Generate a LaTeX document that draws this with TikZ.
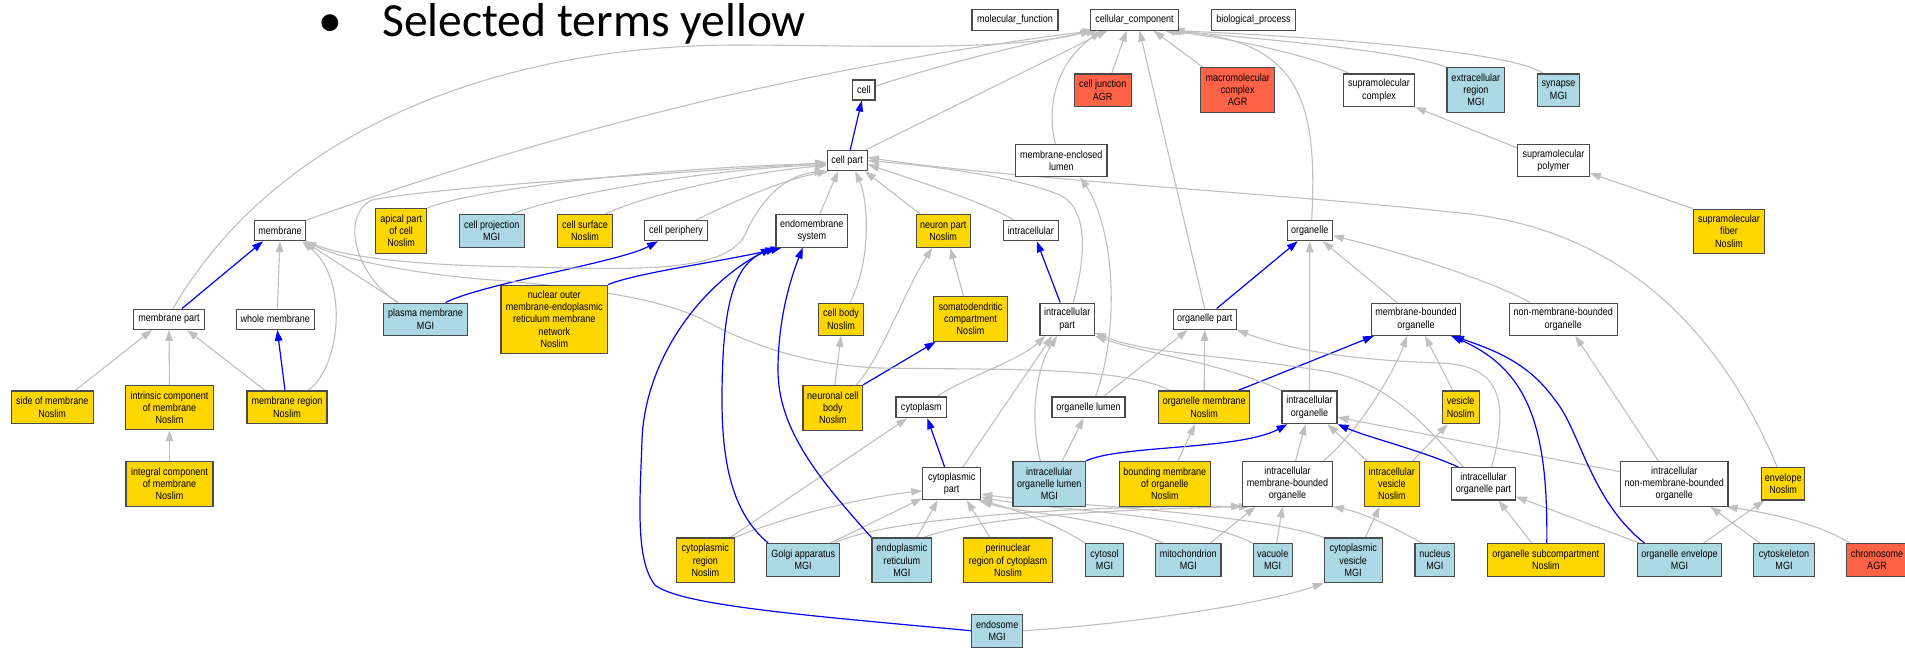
\documentclass[tikz,border=0pt]{standalone}
\usepackage{fontspec}
\newfontfamily\lbl{Liberation Sans}[FakeStretch=0.86]
\newfontfamily\ttl{Carlito}
\usetikzlibrary{arrows.meta}
\definecolor{egray}{HTML}{C0C0C0}
\definecolor{goldy}{HTML}{FFD700}
\definecolor{lblue}{HTML}{ADD8E6}
\definecolor{tomatoc}{HTML}{FF6347}
\definecolor{bordc}{HTML}{4A4A4A}
\pgfdeclarelayer{bg}
\pgfsetlayers{bg,main}
\begin{document}
\begin{tikzpicture}[x=1pt,y=-1pt,
 box/.style={rectangle,draw=bordc,line width=1.1pt,inner sep=0pt,align=center,font=\lbl\fontsize{10.5}{12.2}\selectfont,text=black},
 wbox/.style={box,fill=white},
 ybox/.style={box,fill=goldy},
 bbox/.style={box,fill=lblue},
 rbox/.style={box,fill=tomatoc},
 sz/.style 2 args={minimum width=#1,minimum height=#2},
 gedge/.style={draw=egray,line width=1.1pt,-{Triangle[length=11pt,width=7.5pt]}},
 bedge/.style={draw=blue,line width=1.2pt,-{Triangle[length=11pt,width=7.5pt]}},
]
\useasboundingbox (0,0) rectangle (1905,649);
% title
\node[font=\ttl\fontsize{47.6}{50}\selectfont,anchor=base,inner sep=0] (bullet) at (330,36) {•};
\node[font=\ttl\fontsize{47.6}{50}\selectfont,anchor=base west,inner sep=0] (title) at (382,36) {Selected terms yellow};
% nodes
\node[wbox,sz={86}{20.7}] (mf) at (1015,19.7) {molecular\_function};
\node[wbox,sz={88}{20.7}] (cc) at (1134.5,19.7) {cellular\_component};
\node[wbox,sz={84}{20.7}] (bp) at (1253.5,19.7) {biological\_process};
\node[wbox,sz={22.3}{20}] (cell) at (863.8,90) {cell};
\node[rbox,sz={57}{32.7}] (cj) at (1102.7,90.3) {cell junction\\AGR};
\node[rbox,sz={74}{44.7}] (mc) at (1237.7,90) {macromolecular\\complex\\AGR};
\node[wbox,sz={71}{32.7}] (sc) at (1379,90.3) {supramolecular\\complex};
\node[bbox,sz={57.7}{44.7}] (exr) at (1475.8,90) {extracellular\\region\\MGI};
\node[bbox,sz={42.3}{32.7}] (syn) at (1558.5,90.3) {synapse\\MGI};
\node[wbox,sz={40.3}{20.3}] (cp) at (847.2,160.5) {cell part};
\node[wbox,sz={91.3}{32.3}] (mel) at (1061.3,160.5) {membrane-enclosed\\lumen};
\node[wbox,sz={71.7}{32.3}] (sp) at (1553.5,160.5) {supramolecular\\polymer};
\node[wbox,sz={51.3}{20}] (mem) at (280,230.7) {membrane};
\node[ybox,sz={51}{44.7}] (apc) at (401.2,231) {apical part\\of cell\\Noslim};
\node[bbox,sz={65.3}{32.7}] (cproj) at (491.7,231) {cell projection\\MGI};
\node[ybox,sz={55.3}{32.7}] (csurf) at (585,231) {cell surface\\Noslim};
\node[wbox,sz={62.7}{20}] (cper) at (676,230.7) {cell periphery};
\node[wbox,sz={71.7}{32.7}] (ems) at (811.8,230.7) {endomembrane\\system};
\node[ybox,sz={53.7}{32.7}] (np) at (943.2,231) {neuron part\\Noslim};
\node[wbox,sz={55}{20}] (ic) at (1030.8,230.7) {intracellular};
\node[wbox,sz={45.3}{20}] (org) at (1309.7,230.7) {organelle};
\node[ybox,sz={71.3}{44.3}] (sf) at (1729,231.2) {supramolecular\\fiber\\Noslim};
\node[wbox,sz={70.7}{20.3}] (mp) at (169,319.2) {membrane part};
\node[wbox,sz={78}{20.3}] (wm) at (275.3,319.2) {whole membrane};
\node[bbox,sz={84.3}{32.3}] (pm) at (425.5,319.2) {plasma membrane\\MGI};
\node[ybox,sz={106.7}{68.3}] (nom) at (554.3,319.2) {nuclear outer\\membrane-endoplasmic\\reticulum membrane\\network\\Noslim};
\node[ybox,sz={44.7}{32.3}] (cb) at (841,319.2) {cell body\\Noslim};
\node[ybox,sz={73.7}{44.7}] (sdc) at (970.5,319) {somatodendritic\\compartment\\Noslim};
\node[wbox,sz={54.5}{32.3}] (icp) at (1067.2,319.2) {intracellular\\part};
\node[wbox,sz={63.3}{20.3}] (op) at (1204.7,319.2) {organelle part};
\node[wbox,sz={89.3}{32.3}] (mbo) at (1416,319.2) {membrane-bounded\\organelle};
\node[wbox,sz={107.7}{32.3}] (nmbo) at (1563.2,319.2) {non-membrane-bounded\\organelle};
\node[ybox,sz={82.3}{32.7}] (som) at (52.2,407.3) {side of membrane\\Noslim};
\node[ybox,sz={88.3}{44.3}] (icm) at (169.5,407.5) {intrinsic component\\of membrane\\Noslim};
\node[ybox,sz={80}{32.7}] (mr) at (287,407.3) {membrane region\\Noslim};
\node[ybox,sz={59.7}{44.7}] (ncb) at (832.8,407.7) {neuronal cell\\body\\Noslim};
\node[wbox,sz={50.7}{20.7}] (cyt) at (921.3,407.3) {cytoplasm};
\node[wbox,sz={73}{20.7}] (ol) at (1088.5,407.3) {organelle lumen};
\node[ybox,sz={91}{32.7}] (om) at (1204.2,407.3) {organelle membrane\\Noslim};
\node[wbox,sz={55}{32.7}] (io) at (1309.5,407.3) {intracellular\\organelle};
\node[ybox,sz={36.7}{32.7}] (ves) at (1460.7,407.3) {vesicle\\Noslim};
\node[ybox,sz={87}{45}] (intc) at (169.5,483.8) {integral component\\of membrane\\Noslim};
\node[wbox,sz={58}{32}] (cytp) at (951.7,483.7) {cytoplasmic\\part};
\node[bbox,sz={72.7}{44.7}] (iol) at (1049.3,483.7) {intracellular\\organelle lumen\\MGI};
\node[ybox,sz={91}{44.7}] (bmo) at (1164.8,483.7) {bounding membrane\\of organelle\\Noslim};
\node[wbox,sz={89.7}{44.7}] (imbo) at (1287.5,483.7) {intracellular\\membrane-bounded\\organelle};
\node[ybox,sz={55}{44.7}] (iv) at (1391.8,483.7) {intracellular\\vesicle\\Noslim};
\node[wbox,sz={63.7}{32.3}] (iop) at (1483.5,483.8) {intracellular\\organelle part};
\node[wbox,sz={107.3}{44.7}] (inmbo) at (1674.3,483.7) {intracellular\\non-membrane-bounded\\organelle};
\node[ybox,sz={43}{32.3}] (env) at (1783.2,483.8) {envelope\\Noslim};
\node[ybox,sz={58}{44.7}] (cr) at (705.3,560.3) {cytoplasmic\\region\\Noslim};
\node[bbox,sz={73}{32.7}] (golgi) at (803.2,560) {Golgi apparatus\\MGI};
\node[bbox,sz={59.7}{44.7}] (erc) at (901.8,560.3) {endoplasmic\\reticulum\\MGI};
\node[ybox,sz={88.7}{44.7}] (pnr) at (1008,560.3) {perinuclear\\region of cytoplasm\\Noslim};
\node[bbox,sz={37.7}{32.7}] (cyto) at (1104.5,560) {cytosol\\MGI};
\node[bbox,sz={65.3}{32.7}] (mito) at (1188.3,560) {mitochondrion\\MGI};
\node[bbox,sz={38.7}{32.7}] (vac) at (1272.7,560) {vacuole\\MGI};
\node[bbox,sz={57.7}{44.7}] (cv) at (1353.2,560.3) {cytoplasmic\\vesicle\\MGI};
\node[bbox,sz={39.7}{32.7}] (nuc) at (1434.8,560) {nucleus\\MGI};
\node[ybox,sz={117}{32.7}] (osc) at (1545.8,560) {organelle subcompartment\\Noslim};
\node[bbox,sz={83.7}{32.7}] (oe) at (1679.5,560) {organelle envelope\\MGI};
\node[bbox,sz={60.7}{32.7}] (csk) at (1784,560) {cytoskeleton\\MGI};
\node[rbox,sz={61}{32.7}] (chr) at (1877,560) {chromosome\\AGR};
\node[bbox,sz={51}{32.7}] (endo) at (997.2,630.7) {endosome\\MGI};
% edges
\begin{pgfonlayer}{bg}
\fill[white] (0,0) rectangle (1905,649);
\draw[gedge] ([yshift=4]cell.east) .. controls (950,62) and (1030,42) .. ([xshift=-37]cc.south);
\draw[bedge] ([xshift=3]cp.north) -- ([xshift=-2]cell.south);
\draw[gedge] ([xshift=-2]cp.north east) -- ([xshift=-27]cc.south);
\draw[gedge] (mem.north east) .. controls (600,115) and (850,62) .. ([xshift=-41]cc.south);
\draw[gedge] ([xshift=4]mp.north) .. controls (284,119) and (517,45) .. (737,45) .. controls (850,45) and (1010,52) .. ([xshift=-43]cc.south);
\draw[gedge] ([xshift=-6]mel.north) .. controls (1045,100) and (1060,60) .. ([xshift=-33]cc.south);
\draw[gedge] ([xshift=9]cj.north) -- ([xshift=-8]cc.south);
\draw[gedge] (op.north) -- ([xshift=5]cc.south);
\draw[gedge] ([xshift=-35]mc.north) -- ([xshift=19]cc.south);
\draw[gedge] ([xshift=-30]sc.north) .. controls (1310,55) and (1230,38) .. ([xshift=30]cc.south);
\draw[gedge] (exr.north west) .. controls (1400,50) and (1250,38) .. ([xshift=36]cc.south);
\draw[gedge] ([xshift=-15]syn.north) .. controls (1510,50) and (1300,36) .. ([xshift=39]cc.south);
\draw[gedge] ([xshift=2]org.north) .. controls (1318,100) and (1300,40) .. ([xshift=33]cc.south);
\draw[gedge] ([yshift=-4]sp.north west) -- (sc.south east);
\draw[gedge] (sf.north west) -- ([yshift=4]sp.south east);
% membrane cluster
\draw[bedge] ([xshift=13]mp.north) -- ([xshift=-17]mem.south);
\draw[gedge] ([xshift=2]wm.north) -- (mem.south);
\draw[gedge] ([xshift=23]som.north) -- ([xshift=-17]mp.south);
\draw[gedge] (icm.north) -- (mp.south);
\draw[gedge] (intc.north) -- (icm.south);
\draw[gedge] ([xshift=-22]mr.north) -- ([xshift=18]mp.south);
\draw[bedge] ([xshift=-2]mr.north) -- ([xshift=2]wm.south);
\draw[gedge] ([xshift=21]mr.north) .. controls (340,368) and (350,280) .. ([xshift=22]mem.south);
% cell part children
\draw[gedge] (apc.north east) .. controls (470,190) and (650,168) .. ([yshift=-3]cp.west);
\draw[gedge] ([xshift=20]cproj.north) .. controls (560,195) and (700,170) .. ([yshift=-4]cp.west);
\draw[gedge] ([xshift=20]csurf.north) .. controls (650,193) and (750,172) .. ([yshift=-5]cp.west);
\draw[gedge] ([xshift=20]cper.north) .. controls (740,198) and (790,178) .. ([xshift=2]cp.south west);
\draw[bedge] ([xshift=20]pm.north) .. controls (485,283) and (620,262) .. ([xshift=-18]cper.south);
\draw[gedge] ([xshift=-27]pm.north) -- ([xshift=-2]mem.south east);
\draw[gedge] ([xshift=-28]pm.north) .. controls (355,275) and (340,215) .. (372,200) .. controls (450,185) and (700,172) .. ([yshift=-2]cp.west);
\draw[gedge] ([xshift=8]ems.north) -- ([xshift=-9]cp.south);
\draw[bedge] (nom.north east) .. controls (640,272) and (720,262) .. ([xshift=-30]ems.south);
\draw[gedge] ([xshift=9]cb.north) .. controls (872,260) and (868,200) .. ([xshift=8]cp.south);
\draw[gedge] ([xshift=-23]np.north) -- ([xshift=-3]cp.south east);
\draw[gedge] ([xshift=-7]sdc.north) -- ([xshift=7]np.south);
\draw[gedge] ([xshift=2]ncb.north) -- (cb.south);
\draw[bedge] (ncb.north east) -- ([xshift=-35]sdc.south);
\draw[gedge] ([xshift=-7]ncb.north east) .. controls (880,360) and (905,290) .. ([xshift=-11]np.south);
\draw[gedge] ([xshift=-17]ic.north) .. controls (990,205) and (930,185) .. ([yshift=-4]cp.east);
\draw[bedge] ([xshift=-7]icp.north) -- ([xshift=6]ic.south);
\draw[gedge] ([xshift=6]icp.north) .. controls (1085,260) and (1090,210) .. (1060,195) .. controls (1010,175) and (930,166) .. (cp.east);
\draw[gedge] ([xshift=-6]env.north) .. controls (1720,330) and (1620,225) .. (1450,212) .. controls (1300,195) and (1000,178) .. ([yshift=3]cp.east);
% lumen, organelle
\draw[gedge] ([xshift=7]ol.north) .. controls (1120,330) and (1115,230) .. ([xshift=19]mel.south);
\draw[gedge] ([xshift=15]ol.north) -- ([xshift=-17]op.south);
\draw[bedge] ([xshift=12]op.north) -- ([xshift=-12]org.south);
\draw[gedge] ([xshift=-19]mbo.north) -- ([xshift=13]org.south);
\draw[gedge] ([xshift=-33]nmbo.north) .. controls (1490,280) and (1400,252) .. ([yshift=-5]org.east);
\draw[gedge] (io.north) -- (org.south);
% long membrane lines
\draw[gedge] ([xshift=-34]om.north) .. controls (1120,366) and (1000,370) .. (880,368) .. controls (800,365) and (740,340) .. (700,318) .. controls (650,295) and (560,285) .. (480,279) .. controls (400,272) and (340,258) .. ([xshift=-1]mem.south east);
\draw[gedge] (mem.south east) .. controls (350,262) and (450,266) .. (530,267) .. controls (640,270) and (725,272) .. (745,235) .. controls (760,200) and (785,175) .. ([xshift=-1]cp.south west);
\draw[gedge] (om.north) -- (op.south);
\draw[bedge] ([xshift=34]om.north) -- ([xshift=-42]mbo.south);
% cytoplasm etc
\draw[gedge] ([xshift=16]cyt.north) .. controls (960,380) and (1020,360) .. ([xshift=-22]icp.south);
\draw[bedge] ([xshift=-7]cytp.north) -- ([xshift=6]cyt.south);
\draw[gedge] ([xshift=11]cytp.north) -- ([xshift=-15]icp.south);
\draw[gedge] ([xshift=13]iol.north) -- ([xshift=-5]ol.south);
\draw[bedge] (iol.north east) .. controls (1120,445) and (1240,450) .. ([xshift=-22]io.south);
\draw[gedge] ([xshift=-9]iol.north) .. controls (1030,420) and (1035,370) .. ([xshift=-10]icp.south);
\draw[gedge] ([xshift=13]bmo.north) -- ([xshift=-9]om.south);
\draw[gedge] ([xshift=8]imbo.north) -- ([xshift=-4]io.south);
\draw[gedge] ([xshift=36]imbo.north) .. controls (1360,430) and (1395,370) .. ([xshift=-9]mbo.south);
\draw[gedge] ([xshift=21]iv.north) -- ([xshift=-13]ves.south);
\draw[gedge] ([xshift=-25]iv.north) -- ([xshift=18]io.south);
\draw[gedge] ([xshift=-8]ves.north) -- ([xshift=9]mbo.south);
\draw[gedge] (io.north west) .. controls (1220,362) and (1150,355) .. (icp.south east);
\draw[bedge] ([xshift=-25]iop.north) .. controls (1420,450) and (1370,438) .. (io.south east);
\draw[gedge] ([xshift=8]iop.north) .. controls (1510,400) and (1500,365) .. (1440,363) .. controls (1350,360) and (1290,350) .. (op.south east);
\draw[gedge] ([xshift=-20]iop.north) .. controls (1420,420) and (1390,385) .. (1330,372) .. controls (1230,355) and (1150,355) .. ([yshift=3]icp.south east);
\draw[gedge] ([yshift=12]inmbo.west) -- ([yshift=-10]io.east);
\draw[gedge] ([xshift=-16]inmbo.north) -- ([xshift=12]nmbo.south);
\draw[gedge] ([xshift=24]oe.north) -- ([xshift=3]env.south west);
\draw[bedge] ([xshift=-35]oe.north) .. controls (1590,500) and (1580,430) .. (1555,400) .. controls (1530,365) and (1500,352) .. ([xshift=37]mbo.south);
\draw[gedge] ([xshift=-40]oe.north) -- ([yshift=4]iop.south east);
\draw[gedge] ([xshift=-14]osc.north) -- ([xshift=15]iop.south);
\draw[bedge] ([xshift=1]osc.north) .. controls (1548,430) and (1530,370) .. ([xshift=35]mbo.south);
\draw[gedge] ([xshift=-24]csk.north) -- ([xshift=36]inmbo.south);
\draw[gedge] ([xshift=-27]chr.north) .. controls (1820,525) and (1780,515) .. ([xshift=-2]inmbo.south east);
% bottom row
\draw[gedge] ([xshift=25]cr.north) -- ([xshift=-14]cyt.south);
\draw[gedge] (cr.north east) .. controls (790,515) and (860,498) .. ([yshift=-7]cytp.west);
\draw[bedge] ([xshift=-35]golgi.north) .. controls (735,515) and (722,470) .. (722,400) .. controls (722,300) and (735,262) .. ([xshift=-35]ems.south);
\draw[gedge] ([xshift=27]golgi.north) -- ([yshift=2]cytp.south west);
\draw[gedge] ([xshift=31]golgi.north) .. controls (900,512) and (1150,505) .. (imbo.south west);
\draw[bedge] (erc.north west) .. controls (820,480) and (778,430) .. (778,370) .. controls (778,320) and (790,280) .. ([xshift=-9]ems.south);
\draw[gedge] ([xshift=15]erc.north) -- ([xshift=-14]cytp.south);
\draw[gedge] ([xshift=22]erc.north) .. controls (990,512) and (1180,508) .. ([xshift=8]imbo.south west);
\draw[gedge] ([xshift=-18]pnr.north) -- ([xshift=15]cytp.south);
\draw[gedge] (cyto.north west) .. controls (1050,520) and (1000,505) .. ([xshift=-3]cytp.south east);
\draw[gedge] ([xshift=-25]mito.north) .. controls (1100,515) and (1010,512) .. (cytp.south east);
\draw[gedge] (vac.north west) .. controls (1200,515) and (1050,510) .. ([yshift=3]cytp.south east);
\draw[gedge] (cv.north west) .. controls (1250,512) and (1060,505) .. ([yshift=6]cytp.south east);
\draw[gedge] ([xshift=22]mito.north) -- ([xshift=-32]imbo.south);
\draw[gedge] ([xshift=4]vac.north) -- ([xshift=-5]imbo.south);
\draw[gedge] ([xshift=-13]nuc.north) .. controls (1390,525) and (1360,512) .. (imbo.south east);
\draw[gedge] ([xshift=12]cv.north) -- ([xshift=-12]iv.south);
\draw[gedge] (endo.east) .. controls (1120,625) and (1260,605) .. (cv.south west);
\draw[bedge] (endo.west) .. controls (800,615) and (680,605) .. (655,585) .. controls (635,560) and (640,500) .. (642,440) .. controls (645,360) and (700,285) .. ([xshift=-40]ems.south);
\end{pgfonlayer}
\end{tikzpicture}
\end{document}
